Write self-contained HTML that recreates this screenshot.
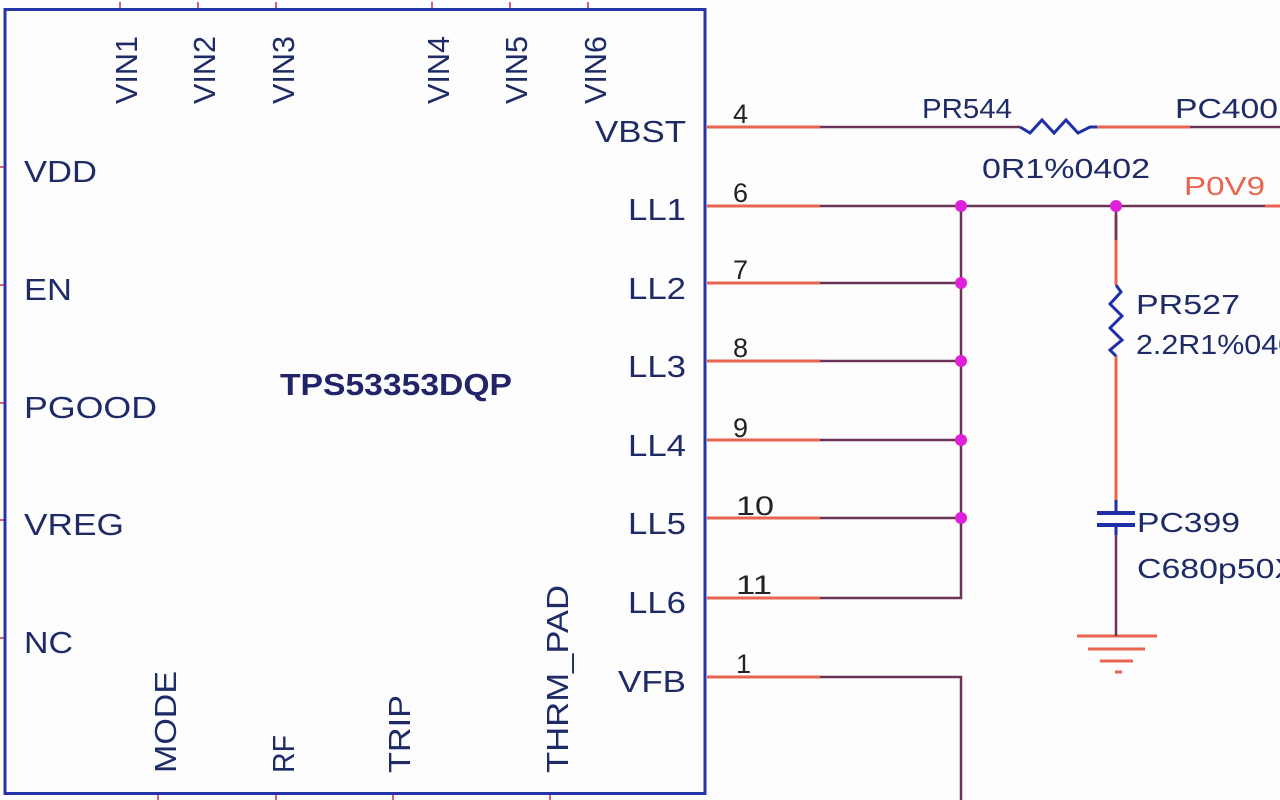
<!DOCTYPE html>
<html><head><meta charset="utf-8"><style>
html,body{margin:0;padding:0;background:#fdfdfd;width:1280px;height:800px;overflow:hidden}
svg text{font-family:"Liberation Sans",sans-serif}
</style></head><body>
<svg width="1280" height="800" viewBox="0 0 1280 800" xmlns="http://www.w3.org/2000/svg">
<rect x="0" y="0" width="1280" height="800" fill="#fdfdfd"/>
<g stroke="#d9607a" stroke-width="2">
<line x1="120" y1="2" x2="120" y2="9"/><line x1="198" y1="2" x2="198" y2="9"/><line x1="276" y1="2" x2="276" y2="9"/>
<line x1="432" y1="2" x2="432" y2="9"/><line x1="510" y1="2" x2="510" y2="9"/><line x1="588" y1="2" x2="588" y2="9"/>
<line x1="158" y1="794" x2="158" y2="800"/><line x1="276" y1="794" x2="276" y2="800"/><line x1="393" y1="794" x2="393" y2="800"/><line x1="550" y1="794" x2="550" y2="800"/>
<line x1="0" y1="167" x2="5" y2="167"/><line x1="0" y1="285" x2="5" y2="285"/><line x1="0" y1="403" x2="5" y2="403"/><line x1="0" y1="520" x2="5" y2="520"/><line x1="0" y1="638" x2="5" y2="638"/>
</g>
<rect x="5" y="9.5" width="700" height="784" fill="none" stroke="#2535a8" stroke-width="3"/>
<g stroke="#e8644e" stroke-width="3">
<line x1="707" y1="127" x2="820" y2="127"/>
<line x1="707" y1="206" x2="820" y2="206"/>
<line x1="707" y1="283" x2="820" y2="283"/>
<line x1="707" y1="361" x2="820" y2="361"/>
<line x1="707" y1="440" x2="820" y2="440"/>
<line x1="707" y1="518" x2="820" y2="518"/>
<line x1="707" y1="598" x2="820" y2="598"/>
<line x1="707" y1="677" x2="820" y2="677"/>
<line x1="1095" y1="127" x2="1190" y2="127"/>
<line x1="1116" y1="215" x2="1116" y2="285"/>
<line x1="1116" y1="355" x2="1116" y2="505"/>
<line x1="1077" y1="636" x2="1157" y2="636"/>
<line x1="1088" y1="649" x2="1145" y2="649"/>
<line x1="1100" y1="661" x2="1133" y2="661"/>
<line x1="1115" y1="672" x2="1122" y2="672"/>
<line x1="1265" y1="206" x2="1280" y2="206"/>
</g>
<g stroke="#6b3355" stroke-width="2.5" fill="none">
<line x1="820" y1="127" x2="1020" y2="127"/>
<line x1="1190" y1="127" x2="1280" y2="127"/>
<line x1="820" y1="206" x2="1265" y2="206"/>
<line x1="820" y1="283" x2="961" y2="283"/>
<line x1="820" y1="361" x2="961" y2="361"/>
<line x1="820" y1="440" x2="961" y2="440"/>
<line x1="820" y1="518" x2="961" y2="518"/>
<polyline points="820,598 961,598 961,206"/>
<polyline points="820,677 961,677 961,800"/>
<line x1="1116" y1="206" x2="1116" y2="240"/>
<line x1="1116" y1="530" x2="1116" y2="636"/>
</g>
<polyline points="1020,127 1030,133 1042,120 1054,133 1066,120 1078,133 1090,127 1097,127" fill="none" stroke="#1f2fa8" stroke-width="3"/>
<polyline points="1116,285 1121,292 1110,304 1122,316 1110,328 1122,340 1110,350 1116,356" fill="none" stroke="#1f2fa8" stroke-width="3"/>
<line x1="1116" y1="500" x2="1116" y2="513" stroke="#1f2fa8" stroke-width="3"/>
<line x1="1116" y1="524" x2="1116" y2="535" stroke="#1f2fa8" stroke-width="3"/>
<line x1="1097" y1="513" x2="1135" y2="513" stroke="#1f2fa8" stroke-width="4"/>
<line x1="1097" y1="525" x2="1135" y2="525" stroke="#1f2fa8" stroke-width="4"/>
<g fill="#e020d8">
<circle cx="961" cy="206" r="6"/><circle cx="961" cy="283" r="6"/><circle cx="961" cy="361" r="6"/><circle cx="961" cy="440" r="6"/><circle cx="961" cy="518" r="6"/><circle cx="1116" cy="206" r="6"/>
</g>
<g fill="#1e2b66" font-size="31">
<text x="24" y="182" textLength="73" lengthAdjust="spacingAndGlyphs">VDD</text>
<text x="24" y="300" textLength="48" lengthAdjust="spacingAndGlyphs">EN</text>
<text x="24" y="418" textLength="133" lengthAdjust="spacingAndGlyphs">PGOOD</text>
<text x="24" y="535" textLength="100" lengthAdjust="spacingAndGlyphs">VREG</text>
<text x="24" y="653" textLength="49" lengthAdjust="spacingAndGlyphs">NC</text>
</g>
<g fill="#1e2b66" font-size="31">
<text x="595" y="142" textLength="91" lengthAdjust="spacingAndGlyphs">VBST</text>
<text x="628" y="220" textLength="58" lengthAdjust="spacingAndGlyphs">LL1</text>
<text x="628" y="299" textLength="58" lengthAdjust="spacingAndGlyphs">LL2</text>
<text x="628" y="377" textLength="58" lengthAdjust="spacingAndGlyphs">LL3</text>
<text x="628" y="456" textLength="58" lengthAdjust="spacingAndGlyphs">LL4</text>
<text x="628" y="534" textLength="58" lengthAdjust="spacingAndGlyphs">LL5</text>
<text x="628" y="613" textLength="58" lengthAdjust="spacingAndGlyphs">LL6</text>
<text x="618" y="692" textLength="68" lengthAdjust="spacingAndGlyphs">VFB</text>
</g>
<g fill="#1e2b66" font-size="31">
<text transform="translate(137,104) rotate(-90)" textLength="68" lengthAdjust="spacingAndGlyphs">VIN1</text>
<text transform="translate(215,104) rotate(-90)" textLength="68" lengthAdjust="spacingAndGlyphs">VIN2</text>
<text transform="translate(294,104) rotate(-90)" textLength="68" lengthAdjust="spacingAndGlyphs">VIN3</text>
<text transform="translate(449,104) rotate(-90)" textLength="68" lengthAdjust="spacingAndGlyphs">VIN4</text>
<text transform="translate(527,104) rotate(-90)" textLength="68" lengthAdjust="spacingAndGlyphs">VIN5</text>
<text transform="translate(606,104) rotate(-90)" textLength="68" lengthAdjust="spacingAndGlyphs">VIN6</text>
<text transform="translate(176,773) rotate(-90)" textLength="102" lengthAdjust="spacingAndGlyphs">MODE</text>
<text transform="translate(294,773) rotate(-90)" textLength="38" lengthAdjust="spacingAndGlyphs">RF</text>
<text transform="translate(410,773) rotate(-90)" textLength="78" lengthAdjust="spacingAndGlyphs">TRIP</text>
<text transform="translate(568,773) rotate(-90)" textLength="188" lengthAdjust="spacingAndGlyphs">THRM_PAD</text>
</g>
<text x="280" y="395" fill="#22246a" font-size="31" font-weight="bold" textLength="232" lengthAdjust="spacingAndGlyphs">TPS53353DQP</text>
<g fill="#222" font-size="27">
<text x="733" y="123">4</text>
<text x="733" y="202">6</text>
<text x="733" y="279">7</text>
<text x="733" y="357">8</text>
<text x="733" y="437">9</text>
<text x="736" y="515" textLength="38" lengthAdjust="spacingAndGlyphs">10</text>
<text x="736" y="594" textLength="36" lengthAdjust="spacingAndGlyphs">11</text>
<text x="736" y="673">1</text>
</g>
<g fill="#1e2b66" font-size="28">
<text x="922" y="118" textLength="90" lengthAdjust="spacingAndGlyphs">PR544</text>
<text x="1175" y="118" textLength="103" lengthAdjust="spacingAndGlyphs">PC400</text>
<text x="982" y="178" textLength="168" lengthAdjust="spacingAndGlyphs">0R1%0402</text>
<text x="1136" y="314" textLength="104" lengthAdjust="spacingAndGlyphs">PR527</text>
<text x="1136" y="354" textLength="176" lengthAdjust="spacingAndGlyphs">2.2R1%0402</text>
<text x="1137" y="532" textLength="103" lengthAdjust="spacingAndGlyphs">PC399</text>
<text x="1137" y="578" textLength="160" lengthAdjust="spacingAndGlyphs">C680p50X</text>
</g>
<text x="1184" y="195" fill="#e8644e" font-size="26" textLength="81" lengthAdjust="spacingAndGlyphs">P0V9</text>
</svg>
</body></html>
